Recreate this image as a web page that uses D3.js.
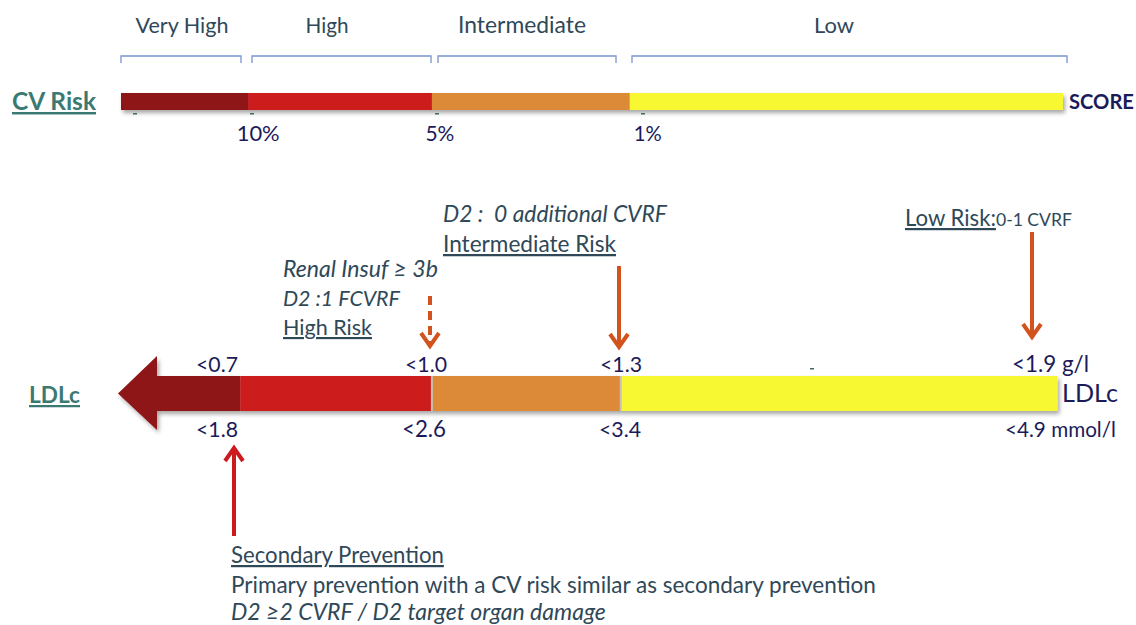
<!DOCTYPE html>
<html><head><meta charset="utf-8">
<script src="https://cdn.jsdelivr.net/npm/d3@7"></script>
<style>
html,body{margin:0;padding:0;background:#fff;}
svg{display:block;font-family:Lato,"Open Sans",sans-serif;}
</style></head>
<body>
<svg id="chart" width="1136" height="625"></svg>
<script>
// ---- data ----
const riskCategories = ["Very High", "High", "Intermediate", "Low"];
const riskColors = ["#8e1317", "#cc1b1e", "#dc8a37", "#f8f832"];
const scoreThresholds = ["10%", "5%", "1%"];
const ldlGl = ["<0.7", "<1.0", "<1.3", "<1.9 g/l"];
const ldlMmol = ["<1.8", "<2.6", "<3.4", "<4.9 mmol/l"];
// segment boundaries on a schematic 0-100 axis
const scoreBounds = [0, 13.5, 33, 54, 100];
const ldlBounds = [0, 8.9, 29.4, 49.6, 96.3];

// ---- layout ----
const svg = d3.select("#chart");
const x = d3.scaleLinear().domain([0, 100]).range([121, 1063]);
const lx = d3.scaleLinear().domain([0, 100]).range([157, 1092]);
const textCol = "#2f4858", navy = "#1b1b5a", teal = "#3b7a73", arrowCol = "#d2531e";

// scale a text's font so it spans a given width
function fit(sel, w) {
  sel.each(function () {
    const t = d3.select(this);
    const fs = parseFloat(t.attr("font-size"));
    const m = this.getComputedTextLength();
    if (m > 0) t.attr("font-size", (fs * w / m).toFixed(2));
  });
  return sel;
}

const defs = svg.append("defs");
const f = defs.append("filter").attr("id", "sh").attr("x", "-5%").attr("y", "-50%").attr("width", "110%").attr("height", "220%");
f.append("feDropShadow").attr("dx", 2).attr("dy", 3).attr("stdDeviation", 2).attr("flood-color", "#000").attr("flood-opacity", 0.35);

// ===== top: CV risk bar =====
const topY = 93, topH = 17;
const brackets = [[121, 241], [252, 431], [438, 616], [632, 1067]];
riskCategories.forEach((c, i) => {
  const [a, b] = brackets[i];
  svg.append("path").attr("d", `M${a},63V56H${b}V63`).attr("fill", "none").attr("stroke", "#7a94cf").attr("stroke-width", 1.3);
});
const catW = [93, 43, 128, 40];
svg.selectAll("text.cat").data(riskCategories).join("text").attr("class", "cat")
  .attr("x", (d, i) => [182, 327, 522, 834][i]).attr("y", 33)
  .attr("text-anchor", "middle").attr("font-size", 20).attr("fill", textCol).text(d => d)
  .each(function (d, i) { fit(d3.select(this), catW[i]); });

const gTop = svg.append("g").attr("filter", "url(#sh)");
gTop.selectAll("rect").data(riskColors).join("rect")
  .attr("x", (d, i) => x(scoreBounds[i])).attr("y", topY)
  .attr("width", (d, i) => x(scoreBounds[i + 1]) - x(scoreBounds[i]) + (i < 3 ? 0.5 : 0))
  .attr("height", topH).attr("fill", d => d);

fit(svg.append("text").attr("x", 12).attr("y", 110).attr("font-size", 21).attr("font-weight", "bold")
  .attr("fill", teal).attr("text-decoration", "underline").text("CV Risk"), 84);
fit(svg.append("text").attr("x", 1069).attr("y", 109).attr("font-size", 17).attr("font-weight", "bold")
  .attr("fill", navy).text("SCORE"), 65);

svg.selectAll("text.pct").data(scoreThresholds).join("text").attr("class", "pct")
  .attr("x", (d, i) => x(scoreBounds[i + 1]) + [10, 8, 18][i]).attr("y", 141)
  .attr("text-anchor", "middle").attr("font-size", 18).attr("fill", navy).text(d => d)
  .each(function (d, i) { fit(d3.select(this), [43, 29, 28][i]); });

// tiny marks
[[135, 113], [252, 113], [437, 113], [643, 113], [152, 400], [257, 400], [446, 401], [636, 401], [812, 368]]
  .forEach(([a, b]) => svg.append("rect").attr("x", a - 2).attr("y", b).attr("width", 4).attr("height", 1.5).attr("fill", "#3d6a6a"));

// ===== LDLc arrow bar =====
const barY = 376, barH = 35;
const gL = svg.append("g").attr("filter", "url(#sh)");
gL.append("path").attr("d", `M118,${barY + barH / 2}L${lx(0)},356V430Z`).attr("fill", riskColors[0]);
gL.selectAll("rect").data(riskColors).join("rect")
  .attr("x", (d, i) => lx(ldlBounds[i]) - (i === 0 ? 1 : 0)).attr("y", barY)
  .attr("width", (d, i) => lx(ldlBounds[i + 1]) - lx(ldlBounds[i]) + (i === 0 ? 1 : 0))
  .attr("height", barH).attr("fill", d => d);
[2, 3].forEach(i => svg.append("rect").attr("x", lx(ldlBounds[i]) - 1).attr("y", barY).attr("width", 2).attr("height", barH).attr("fill", "#c9c2b8"));

const glW = [42, 42, 42, 77];
svg.selectAll("text.gl").data(ldlGl).join("text").attr("class", "gl")
  .attr("x", (d, i) => i < 3 ? [217, 426, 621][i] : 1012).attr("y", 372)
  .attr("text-anchor", (d, i) => i < 3 ? "middle" : "start")
  .attr("font-size", 19).attr("fill", navy).text(d => d)
  .each(function (d, i) { fit(d3.select(this), glW[i]); });
const mmW = [42, 44, 42, 111];
svg.selectAll("text.mm").data(ldlMmol).join("text").attr("class", "mm")
  .attr("x", (d, i) => i < 3 ? [217, 424, 620][i] : 1005).attr("y", 437)
  .attr("text-anchor", (d, i) => i < 3 ? "middle" : "start")
  .attr("font-size", (d, i) => i < 3 ? 19 : 15).attr("fill", navy).text(d => d)
  .each(function (d, i) { fit(d3.select(this), mmW[i]); });

fit(svg.append("text").attr("x", 1062).attr("y", 402).attr("font-size", 25).attr("fill", navy).text("LDLc"), 56);
fit(svg.append("text").attr("x", 29).attr("y", 403).attr("font-size", 21).attr("font-weight", "bold")
  .attr("fill", teal).attr("text-decoration", "underline").text("LDLc"), 51);

// ===== annotations =====
function downArrow(xx, y0, y1, dashed, col) {
  const g = svg.append("g").attr("stroke", col).attr("fill", "none").attr("stroke-width", 4);
  g.append("line").attr("x1", xx).attr("x2", xx).attr("y1", y0).attr("y2", y1 - 2)
    .attr("stroke-dasharray", dashed ? "9,6" : null);
  g.append("path").attr("d", `M${xx - 9},${y1 - 13}L${xx},${y1}L${xx + 9},${y1 - 13}`);
}
downArrow(430, 296, 346, true, arrowCol);
downArrow(619, 266, 347, false, arrowCol);
downArrow(1032, 232, 337, false, arrowCol);
{
  const g = svg.append("g").attr("stroke", "#cc1b1e").attr("fill", "none").attr("stroke-width", 4);
  g.append("line").attr("x1", 234).attr("x2", 234).attr("y1", 536).attr("y2", 450);
  g.append("path").attr("d", "M225,461L234,448L243,461");
}

function txt(s, xx, yy, w, opts = {}) {
  const t = svg.append("text").attr("x", xx).attr("y", yy).attr("font-size", opts.size || 20)
    .attr("fill", textCol).attr("font-style", opts.italic ? "italic" : null)
    .attr("text-decoration", opts.u ? "underline" : null)
    .attr("xml:space", "preserve").text(s);
  return fit(t, w);
}
txt("D2 :  0 additional CVRF", 443, 222, 224, { italic: true });
txt("Intermediate Risk", 443, 252, 173, { u: true });
txt("Renal Insuf ≥ 3b", 283, 277, 155, { italic: true });
txt("D2 :1 FCVRF", 283, 306, 117, { italic: true });
txt("High Risk", 283, 335, 89, { u: true });
const lr = svg.append("text").attr("x", 905).attr("y", 226).attr("fill", textCol);
const t1 = lr.append("tspan").attr("font-size", 18).attr("text-decoration", "underline").text("Low Risk:");
const t2 = lr.append("tspan").attr("font-size", 15).text("0-1 CVRF");
t1.attr("font-size", (18 * 91 / t1.node().getComputedTextLength()).toFixed(2));
t2.attr("font-size", (15 * 76 / t2.node().getComputedTextLength()).toFixed(2));
txt("Secondary Prevention", 231, 563, 213, { u: true });
txt("Primary prevention with a CV risk similar as secondary prevention", 231, 593, 645);
txt("D2 ≥2 CVRF / D2 target organ damage", 231, 620, 375, { italic: true });
</script>
</body></html>
